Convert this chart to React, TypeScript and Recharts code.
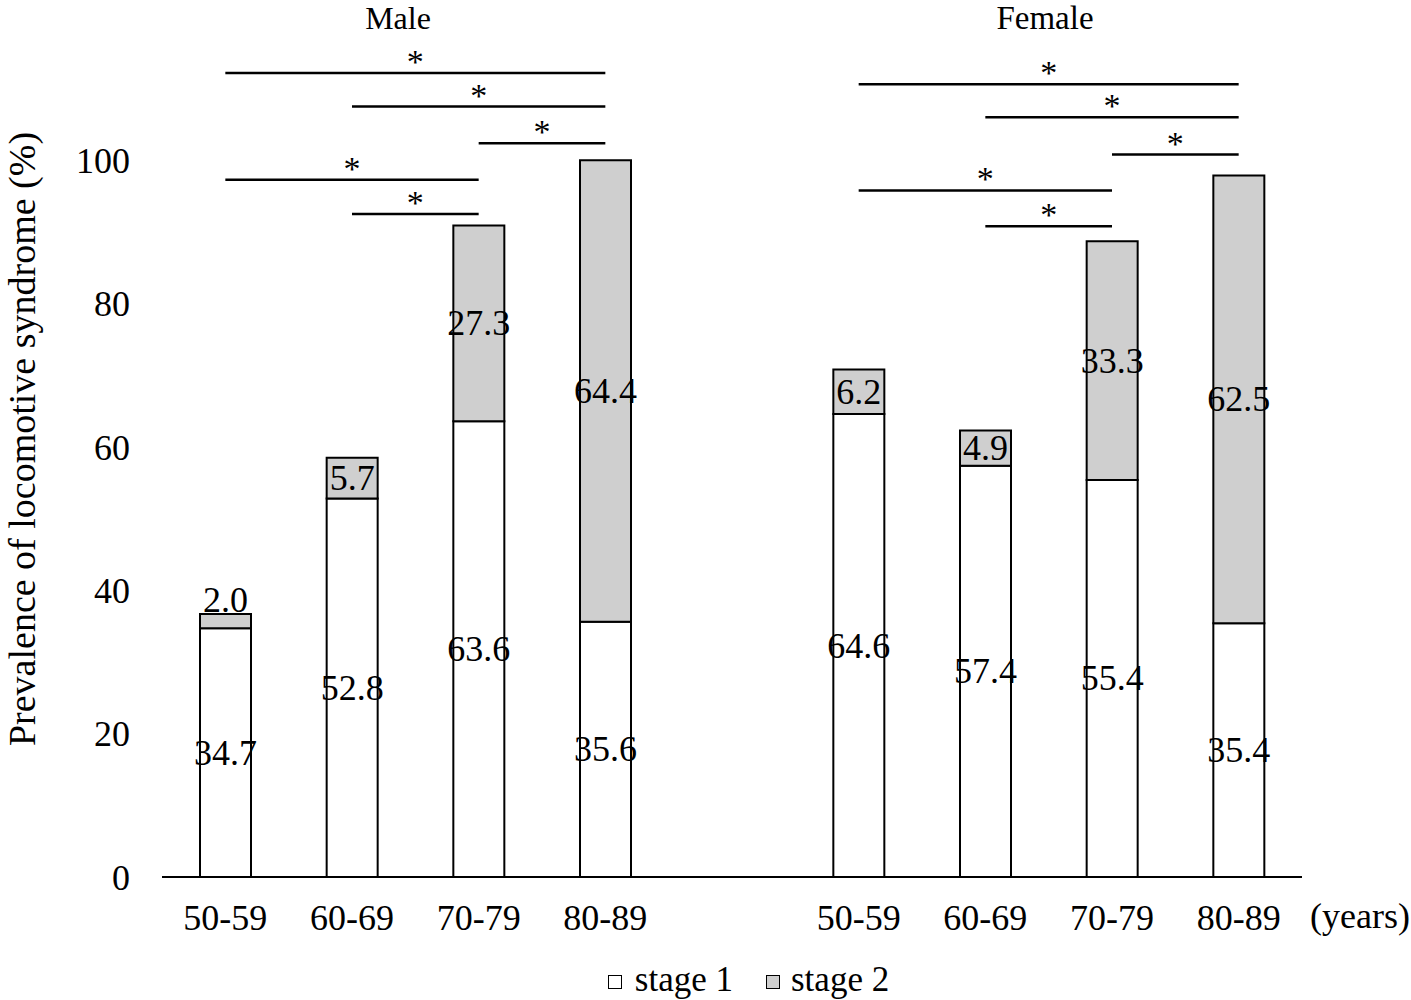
import { BarChart, Bar, XAxis, YAxis, LabelList, ReferenceLine, Legend, Label } from "recharts";

// categories (one empty slot separates the two sexes)
const groups = ["Male", "Male", "Male", "Male", "", "Female", "Female", "Female", "Female"];
const ages = ["50-59", "60-69", "70-79", "80-89", "", "50-59", "60-69", "70-79", "80-89"];

// prevalence (%) per stage
const stage1 = [34.7, 52.8, 63.6, 35.6, null, 64.6, 57.4, 55.4, 35.4];
const stage2 = [2.0, 5.7, 27.3, 64.4, null, 6.2, 4.9, 33.3, 62.5];

const yTicks = [0, 20, 40, 60, 80, 100];

// significance bars: from / to category index, height on the y scale
const brackets = [
  { from: 0, to: 3, y: 112.2 },
  { from: 1, to: 3, y: 107.5 },
  { from: 2, to: 3, y: 102.4 },
  { from: 0, to: 2, y: 97.3 },
  { from: 1, to: 2, y: 92.5 },
  { from: 5, to: 8, y: 110.6 },
  { from: 6, to: 8, y: 106.0 },
  { from: 7, to: 8, y: 100.8 },
  { from: 5, to: 7, y: 95.8 },
  { from: 6, to: 7, y: 90.8 },
];

const rows = ages.map((age, i) => ({
  key: `${groups[i] || "gap"}-${i}`,
  age,
  stage1: stage1[i],
  stage2: stage2[i],
}));

const FONT = "'Liberation Serif', 'Times New Roman', serif";

const SegLabel = (props: any) => {
  const { x, y, width, height, value } = props;
  if (value == null) return null;
  const small = Math.abs(height) < 20;
  const ty = small ? y - 2 : y + height / 2 + 12;
  return (
    <text x={x + width / 2} y={ty} textAnchor="middle" fontSize={36} fill="#000" fontFamily={FONT}>
      {Number(value).toFixed(1)}
    </text>
  );
};

const renderLegend = () => (
  <div
    style={{
      display: "flex",
      justifyContent: "center",
      alignItems: "center",
      height: 40,
      fontSize: 35,
      fontFamily: FONT,
      paddingLeft: 86,
      color: "#000",
    }}
  >
    <span style={{ display: "inline-block", width: 12, height: 12, border: "1px solid #000", background: "#fff", marginRight: 13, marginTop: 4 }} />
    <span style={{ marginRight: 33 }}>stage 1</span>
    <span style={{ display: "inline-block", width: 12, height: 12, border: "1px solid #000", background: "#cfcfcf", marginRight: 11, marginTop: 4 }} />
    <span>stage 2</span>
  </div>
);

export default function App() {
  return (
    <div style={{ position: "absolute", left: 0, top: 0, width: 1411, height: 1000, background: "#fff", fontFamily: FONT }}>
      <div style={{ position: "absolute", top: 0, left: 398, transform: "translateX(-50%)", fontSize: 32, lineHeight: "36px" }}>Male</div>
      <div style={{ position: "absolute", top: 0, left: 1045, transform: "translateX(-50%)", fontSize: 33, lineHeight: "36px" }}>Female</div>
      <BarChart width={1411} height={1000} data={rows} margin={{ top: 17, right: 109, left: 0, bottom: 0 }} barSize={51}>
        <XAxis
          dataKey="key"
          interval={0}
          height={83}
          tickLine={false}
          tickMargin={21}
          axisLine={{ stroke: "#000", strokeWidth: 2 }}
          tick={{ fill: "#000", fontSize: 36, fontFamily: FONT }}
          tickFormatter={(k: string) => rows.find((r) => r.key === k)?.age ?? ""}
        >
          <Label value="(years)" position="right" offset={8} dy={-3} style={{ fill: "#000", fontSize: 36, fontFamily: FONT }} />
        </XAxis>
        <YAxis
          width={162}
          domain={[0, 120]}
          ticks={yTicks}
          axisLine={false}
          tickLine={false}
          tickMargin={26}
          tick={{ fill: "#000", fontSize: 36, fontFamily: FONT }}
        >
          <Label
            value="Prevalence of locomotive syndrome (%)"
            angle={-90}
            position="insideLeft"
            offset={22}
            dy={-8}
            style={{ textAnchor: "middle", fill: "#000", fontSize: 38, fontFamily: FONT }}
          />
        </YAxis>
        <Legend verticalAlign="bottom" content={renderLegend} wrapperStyle={{ left: 0, width: 1411 }} />
        <Bar dataKey="stage1" name="stage 1" stackId="a" fill="#fff" stroke="#000" strokeWidth={2} isAnimationActive={false}>
          <LabelList dataKey="stage1" content={SegLabel} />
        </Bar>
        <Bar dataKey="stage2" name="stage 2" stackId="a" fill="#cfcfcf" stroke="#000" strokeWidth={2} isAnimationActive={false}>
          <LabelList dataKey="stage2" content={SegLabel} />
        </Bar>
        {brackets.map((b, i) => (
          <ReferenceLine
            key={`br-${i}`}
            segment={[
              { x: rows[b.from].key, y: b.y },
              { x: rows[b.to].key, y: b.y },
            ]}
            stroke="#000"
            strokeWidth={2.5}
            ifOverflow="visible"
            label={{ value: "*", position: "top", offset: 0, fill: "#000", fontSize: 34, fontFamily: FONT }}
          />
        ))}
      </BarChart>
    </div>
  );
}
